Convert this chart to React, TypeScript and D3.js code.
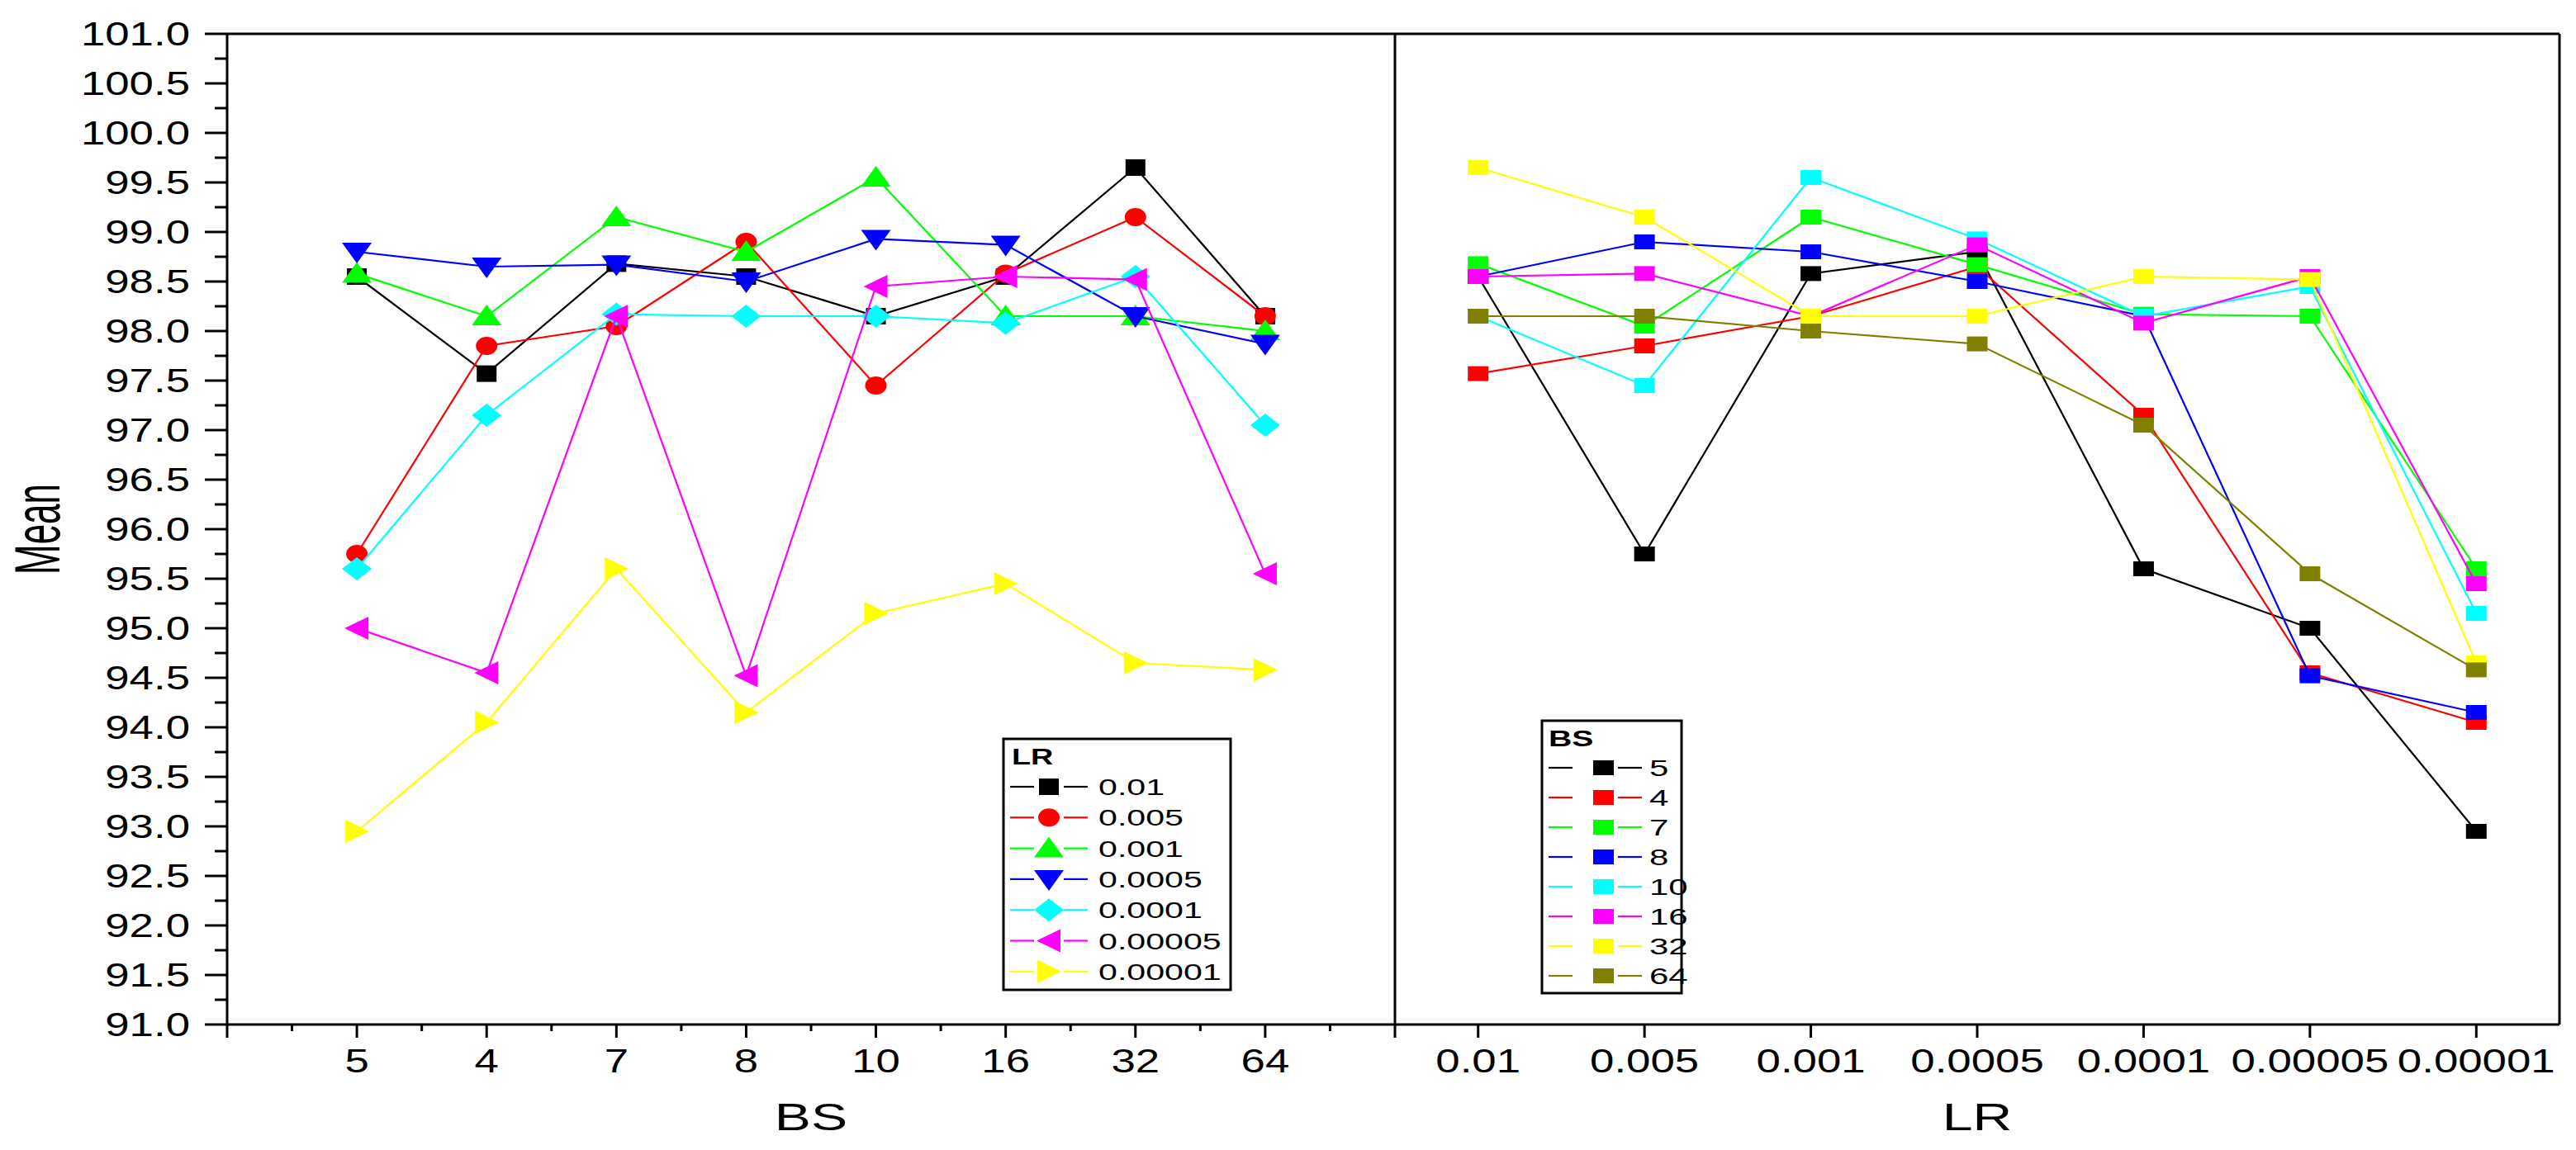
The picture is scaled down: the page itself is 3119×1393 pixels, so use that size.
import React from 'react';
import * as d3 from 'd3';

// batch sizes (left panel x, right panel series) and learning rates (left series, right x)
const bsLabels = ['5', '4', '7', '8', '10', '16', '32', '64'];
const lrLabels = ['0.01', '0.005', '0.001', '0.0005', '0.0001', '0.00005', '0.00001'];

// mean per LR, one value per BS in bsLabels order
const lr0_01 = [98.55, 97.57, 98.68, 98.55, 98.15, 98.55, 99.65, 98.15];
const lr0_005 = [95.75, 97.85, 98.05, 98.9, 97.45, 98.58, 99.15, 98.15];
const lr0_001 = [98.58, 98.15, 99.15, 98.8, 99.55, 98.15, 98.15, 98.0];
const lr0_0005 = [98.8, 98.65, 98.67, 98.5, 98.93, 98.87, 98.15, 97.87];
const lr0_0001 = [95.6, 97.15, 98.17, 98.15, 98.15, 98.08, 98.55, 97.05];
const lr0_00005 = [95.0, 94.55, 98.15, 94.52, 98.45, 98.55, 98.52, 95.55];
const lr0_00001 = [92.95, 94.05, 95.6, 94.15, 95.15, 95.45, 94.65, 94.58];

const lrSeries = [lr0_01, lr0_005, lr0_001, lr0_0005, lr0_0001, lr0_00005, lr0_00001];

const yTicks = d3.range(91, 101.01, 0.5);

const lrColors = ['#000000', '#ff0000', '#00ff00', '#0000ff', '#00ffff', '#ff00ff', '#ffff00'];
const lrShapes = ['square', 'circle', 'up', 'down', 'diamond', 'left', 'right'];
const bsColors = ['#000000', '#ff0000', '#00ff00', '#0000ff', '#00ffff', '#ff00ff', '#ffff00', '#808000'];

const FONT = '"Liberation Sans", Arial, sans-serif';

const W = 3119;
const H = 1393;
const left = 275, mid = 1689, right = 3099, top = 41, bottom = 1241;

const y = d3.scaleLinear().domain([91, 101]).range([bottom, top]);
const xL = d3.scaleLinear().domain([0, 9]).range([left, mid]);
const xR = d3.scaleLinear().domain([0.5, 7.5]).range([mid, right]);

function markerPath(shape: string, cx: number, cy: number) {
  switch (shape) {
    case 'square':
      return `M${cx - 12},${cy - 10}h24v20h-24Z`;
    case 'circle': {
      const rx = 13, ry = 11;
      return `M${cx - rx},${cy}a${rx},${ry} 0 1,0 ${2 * rx},0a${rx},${ry} 0 1,0 ${-2 * rx},0Z`;
    }
    case 'up':
      return `M${cx},${cy - 14}L${cx + 18},${cy + 11}L${cx - 18},${cy + 11}Z`;
    case 'down':
      return `M${cx},${cy + 14}L${cx + 18},${cy - 11}L${cx - 18},${cy - 11}Z`;
    case 'diamond':
      return `M${cx},${cy - 14}L${cx + 18},${cy}L${cx},${cy + 14}L${cx - 18},${cy}Z`;
    case 'left':
      return `M${cx - 15},${cy}L${cx + 14},${cy - 14}L${cx + 14},${cy + 14}Z`;
    case 'right':
      return `M${cx + 15},${cy}L${cx - 14},${cy - 14}L${cx - 14},${cy + 14}Z`;
    default:
      return '';
  }
}

const SText = ({ x, y, sx, anchor = 'start', size, weight = 'normal', children }: any) => (
  <text
    transform={`translate(${x},${y}) scale(${sx},1)`}
    textAnchor={anchor}
    fontSize={size}
    fontWeight={weight}
    fontFamily={FONT}
    fill="#000"
  >
    {children}
  </text>
);

export default function App() {
  const lineGen = d3.line<[number, number]>().x(d => d[0]).y(d => d[1]);

  // left panel: LR series over BS
  const leftPlots = lrSeries.map((vals, si) => {
    const pts: [number, number][] = vals.map((v, i) => [xL(i + 1), y(v)]);
    return (
      <g key={'l' + si}>
        <path d={lineGen(pts)!} fill="none" stroke={lrColors[si]} strokeWidth={2.2} />
        {pts.map((p, i) => (
          <path key={i} d={markerPath(lrShapes[si], p[0], p[1])} fill={lrColors[si]} />
        ))}
      </g>
    );
  });

  // right panel: BS series over LR (transpose)
  const rightPlots = bsLabels.map((bs, bi) => {
    const pts: [number, number][] = lrSeries.map((vals, li) => [xR(li + 1), y(vals[bi])]);
    return (
      <g key={'r' + bi}>
        <path d={lineGen(pts)!} fill="none" stroke={bsColors[bi]} strokeWidth={2.2} />
        {pts.map((p, i) => (
          <rect key={i} x={p[0] - 12.5} y={p[1] - 9} width={25} height={18} fill={bsColors[bi]} />
        ))}
      </g>
    );
  });

  const minorY = d3.range(91.25, 101, 0.5);

  return (
    <div style={{ position: 'absolute', left: 0, top: 0, background: '#fff' }}>
      <svg width={W} height={H} style={{ display: 'block' }}>
        <rect width={W} height={H} fill="#fff" />

        {leftPlots}
        {rightPlots}

        {/* frame */}
        <g stroke="#000" strokeWidth={3} fill="none">
          <line x1={left} x2={right} y1={top} y2={top} />
          <line x1={left} x2={right} y1={bottom} y2={bottom} />
          <line x1={left} x2={left} y1={top} y2={bottom + 16} />
          <line x1={mid} x2={mid} y1={top} y2={bottom + 16} />
          <line x1={right} x2={right} y1={top} y2={bottom} />
          {yTicks.map(t => (
            <line key={'yt' + t} x1={left - 27} x2={left} y1={y(t)} y2={y(t)} />
          ))}
          {minorY.map(t => (
            <line key={'ym' + t} x1={left - 15} x2={left} y1={y(t)} y2={y(t)} />
          ))}
          {bsLabels.map((_, i) => (
            <line key={'xl' + i} x1={xL(i + 1)} x2={xL(i + 1)} y1={bottom} y2={bottom + 16} />
          ))}
          {d3.range(0.5, 9, 1).map(t => (
            <line key={'xlm' + t} x1={xL(t)} x2={xL(t)} y1={bottom} y2={bottom + 8} />
          ))}
          {lrLabels.map((_, i) => (
            <line key={'xr' + i} x1={xR(i + 1)} x2={xR(i + 1)} y1={bottom} y2={bottom + 16} />
          ))}
        </g>

        {/* y tick labels */}
        {yTicks.map(t => (
          <SText key={'yl' + t} x={230} y={y(t) + 14} sx={1.32} anchor="end" size={40}>
            {t.toFixed(1)}
          </SText>
        ))}

        {/* x tick labels */}
        {bsLabels.map((l, i) => (
          <SText key={'bl' + i} x={xL(i + 1)} y={1299} sx={1.32} anchor="middle" size={40}>
            {l}
          </SText>
        ))}
        {lrLabels.map((l, i) => (
          <SText key={'ll' + i} x={xR(i + 1)} y={1299} sx={1.32} anchor="middle" size={40}>
            {l}
          </SText>
        ))}

        {/* axis titles */}
        <SText x={(left + mid) / 2} y={1369} sx={1.44} anchor="middle" size={46}>BS</SText>
        <SText x={(mid + right) / 2} y={1369} sx={1.44} anchor="middle" size={46}>LR</SText>
        <text
          transform={`translate(72,${(top + bottom) / 2}) scale(1.75,1) rotate(-90)`}
          textAnchor="middle"
          fontSize={44}
          fontFamily={FONT}
          fill="#000"
        >
          Mean
        </text>

        {/* left legend */}
        <g>
          <rect x={1215} y={895} width={275} height={304} fill="#fff" stroke="#000" strokeWidth={3} />
          <SText x={1225} y={926} sx={1.4} size={27} weight="bold">LR</SText>
          {lrLabels.map((l, i) => {
            const ry = 953 + i * 37.3;
            return (
              <g key={'lg' + i}>
                <line x1={1223} x2={1252} y1={ry} y2={ry} stroke={lrColors[i]} strokeWidth={2.2} />
                <line x1={1288} x2={1317} y1={ry} y2={ry} stroke={lrColors[i]} strokeWidth={2.2} />
                <path d={markerPath(lrShapes[i], 1270, ry)} fill={lrColors[i]} />
                <SText x={1330} y={ry + 10} sx={1.47} size={28}>{l}</SText>
              </g>
            );
          })}
        </g>

        {/* right legend */}
        <g>
          <rect x={1867} y={873} width={169} height={330} fill="#fff" stroke="#000" strokeWidth={3} />
          <SText x={1875} y={904} sx={1.45} size={27} weight="bold">BS</SText>
          {bsLabels.map((l, i) => {
            const ry = 930 + i * 36;
            return (
              <g key={'rg' + i}>
                <line x1={1875} x2={1904} y1={ry} y2={ry} stroke={bsColors[i]} strokeWidth={2.2} />
                <line x1={1959} x2={1988} y1={ry} y2={ry} stroke={bsColors[i]} strokeWidth={2.2} />
                <rect x={1929} y={ry - 9} width={25} height={18} fill={bsColors[i]} />
                <SText x={1997} y={ry + 10} sx={1.5} size={28}>{l}</SText>
              </g>
            );
          })}
        </g>
      </svg>
    </div>
  );
}
